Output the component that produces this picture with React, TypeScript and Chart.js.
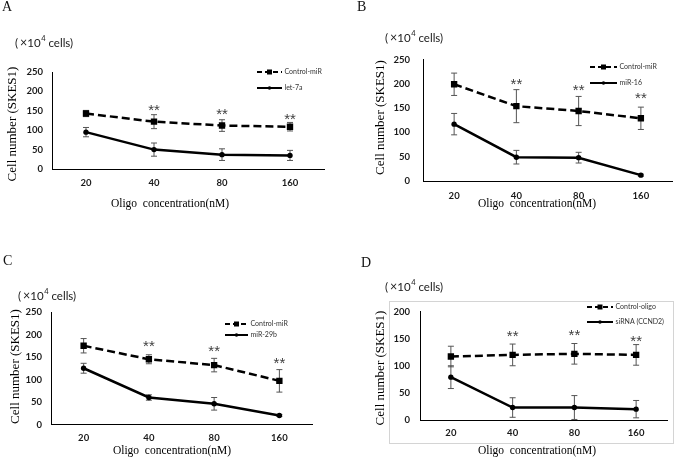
import React, { useEffect, useRef } from "react";
import { Chart, registerables } from "chart.js";

Chart.register(...registerables);

// ---------- data ----------
const concentrations = ["20", "40", "80", "160"];

// Panel A
const controlA = [143, 122, 112, 109];
const controlAErr = [8, 18, 15, 11];
const let7a = [95, 50, 37, 35];
const let7aErr = [12, 17, 15, 13];
const starsA = [null, 162, 152, 137];

// Panel B
const controlB = [199, 154, 144, 129];
const controlBErr = [23, 34, 30, 23];
const mir16 = [117, 49, 48, 12];
const mir16Err = [22, 14, 11, 2];
const starsB = [null, 206, 194, 179];

// Panel C
const controlC = [175, 145, 132, 97];
const controlCErr = [16, 10, 15, 25];
const mir29b = [125, 60, 46, 20];
const mir29bErr = [11, 6, 14, 2];
const starsC = [null, 183, 172, 144];

// Panel D
const controlD = [117, 120, 122, 120];
const controlDErr = [19, 20, 19, 19];
const sirna = [79, 23, 23, 20];
const sirnaErr = [21, 18, 22, 16];
const starsD = [null, 161, 164, 152];

const yMaxABC = 250;
const yMaxD = 200;
const yStep = 50;

const yTitle = "Cell number (SKES1)";
const xTitle = "Oligo  concentration(nM)";

// ---------- layout ----------
const PW = 340;
const PH = 229;

type Series = { label: string; values: number[]; errors: number[]; dashed: boolean };
type Panel = {
  letter: string;
  pageLeft: number;
  pageTop: number;
  area: { left: number; right: number; top: number; bottom: number };
  yMax: number;
  xTickPad: number;
  yTickPad: number;
  series: Series[];
  stars: (number | null)[];
  legend: { x1: number; x2: number; y: number[] };
  letterPos: [number, number];
  unitPos: [number, number];
  yTitlePos: [number, number];
  xTitlePos: [number, number];
  box?: [number, number, number, number];
};

const panels: Panel[] = [
  {
    letter: "A",
    pageLeft: 0,
    pageTop: 0,
    area: { left: 52, right: 324, top: 72, bottom: 169 },
    yMax: yMaxABC,
    xTickPad: 8,
    yTickPad: 9,
    series: [
      { label: "Control-miR", values: controlA, errors: controlAErr, dashed: true },
      { label: "let-7a", values: let7a, errors: let7aErr, dashed: false },
    ],
    stars: starsA,
    legend: { x1: 257, x2: 282, y: [72, 88] },
    letterPos: [2, 7],
    unitPos: [15, 43],
    yTitlePos: [12.5, 124],
    xTitlePos: [170, 204],
  },
  {
    letter: "B",
    pageLeft: 340,
    pageTop: 0,
    area: { left: 83, right: 332, top: 59.5, bottom: 181 },
    yMax: yMaxABC,
    xTickPad: 9,
    yTickPad: 13,
    series: [
      { label: "Control-miR", values: controlB, errors: controlBErr, dashed: true },
      { label: "miR-16", values: mir16, errors: mir16Err, dashed: false },
    ],
    stars: starsB,
    legend: { x1: 250, x2: 277, y: [67, 83] },
    letterPos: [17, 7],
    unitPos: [45, 38],
    yTitlePos: [40.5, 117.5],
    xTitlePos: [197, 204],
  },
  {
    letter: "C",
    pageLeft: 0,
    pageTop: 229,
    area: { left: 51, right: 312, top: 83, bottom: 195.5 },
    yMax: yMaxABC,
    xTickPad: 8,
    yTickPad: 9,
    series: [
      { label: "Control-miR", values: controlC, errors: controlCErr, dashed: true },
      { label: "miR-29b", values: mir29b, errors: mir29bErr, dashed: false },
    ],
    stars: starsC,
    legend: { x1: 225, x2: 248, y: [95, 106] },
    letterPos: [3, 32.5],
    unitPos: [18, 67],
    yTitlePos: [15.5, 137.5],
    xTitlePos: [172, 222],
  },
  {
    letter: "D",
    pageLeft: 340,
    pageTop: 229,
    area: { left: 80, right: 327, top: 82.5, bottom: 191 },
    yMax: yMaxD,
    xTickPad: 7.5,
    yTickPad: 10,
    series: [
      { label: "Control-oligo", values: controlD, errors: controlDErr, dashed: true },
      { label: "siRNA (CCND2)", values: sirna, errors: sirnaErr, dashed: false },
    ],
    stars: starsD,
    legend: { x1: 247, x2: 273, y: [78, 93] },
    letterPos: [21, 34.5],
    unitPos: [45, 58],
    yTitlePos: [41, 139],
    xTitlePos: [197, 222],
    box: [49.5, 72.5, 333.5, 214.5],
  },
];

const DASH = [8, 4];
const SANS = "Lato, 'Liberation Sans', sans-serif";
const SERIF = "'Liberation Serif', 'DejaVu Serif', serif";

function drawUnit(ctx: CanvasRenderingContext2D, x: number, y: number) {
  ctx.fillStyle = "#1a1a1a";
  ctx.textBaseline = "middle";
  ctx.textAlign = "left";
  let cx = x;
  ctx.font = `11.5px ${SANS}`;
  ctx.fillText("(", cx, y);
  cx += ctx.measureText("(").width + 2;
  ctx.font = `12.5px ${SANS}`;
  ctx.fillText("×", cx, y);
  cx += ctx.measureText("×").width;
  ctx.font = `11.5px ${SANS}`;
  ctx.fillText("10", cx, y);
  cx += ctx.measureText("10").width;
  ctx.font = `7.5px ${SANS}`;
  ctx.fillText("4", cx + 0.5, y - 4);
  cx += ctx.measureText("4").width + 0.5;
  ctx.font = `11.5px ${SANS}`;
  ctx.fillText(" cells)", cx, y);
}

function makeDecor(p: Panel) {
  return {
    id: "decor" + p.letter,
    beforeDatasetsDraw(chart: any) {
      const ctx: CanvasRenderingContext2D = chart.ctx;
      const xs = chart.scales.x;
      const ys = chart.scales.y;
      ctx.save();
      ctx.strokeStyle = "#555";
      ctx.lineWidth = 1;
      ctx.setLineDash([]);
      p.series.forEach((s) => {
        s.values.forEach((v, i) => {
          const x = xs.getPixelForValue(i);
          const yt = ys.getPixelForValue(v + s.errors[i]);
          const yb = ys.getPixelForValue(v - s.errors[i]);
          ctx.beginPath();
          ctx.moveTo(x, yt);
          ctx.lineTo(x, yb);
          ctx.moveTo(x - 3, yt);
          ctx.lineTo(x + 3, yt);
          ctx.moveTo(x - 3, yb);
          ctx.lineTo(x + 3, yb);
          ctx.stroke();
        });
      });
      ctx.restore();
    },
    afterDatasetsDraw(chart: any) {
      const ctx: CanvasRenderingContext2D = chart.ctx;
      const xs = chart.scales.x;
      const ys = chart.scales.y;
      ctx.save();
      ctx.fillStyle = "#404040";
      ctx.font = `15px 'Liberation Sans', sans-serif`;
      ctx.textAlign = "center";
      ctx.textBaseline = "alphabetic";
      p.stars.forEach((v, i) => {
        if (v == null) return;
        ctx.fillText("**", xs.getPixelForValue(i), ys.getPixelForValue(v) + 8.5);
      });
      ctx.restore();
    },
    afterDraw(chart: any) {
      const ctx: CanvasRenderingContext2D = chart.ctx;
      ctx.save();
      // frame (panel D)
      if (p.box) {
        const [x1, y1, x2, y2] = p.box;
        ctx.strokeStyle = "#d4d4d4";
        ctx.lineWidth = 1;
        ctx.strokeRect(x1, y1, x2 - x1, y2 - y1);
      }
      // panel letter
      ctx.fillStyle = "#111";
      ctx.font = `14px ${SERIF}`;
      ctx.textAlign = "left";
      ctx.textBaseline = "middle";
      ctx.fillText(p.letter, p.letterPos[0], p.letterPos[1]);
      // unit
      drawUnit(ctx, p.unitPos[0], p.unitPos[1]);
      // y title
      ctx.save();
      ctx.translate(p.yTitlePos[0], p.yTitlePos[1]);
      ctx.rotate(-Math.PI / 2);
      ctx.fillStyle = "#000";
      ctx.font = `13px ${SERIF}`;
      ctx.textAlign = "center";
      ctx.textBaseline = "middle";
      ctx.fillText(yTitle, 0, 0);
      ctx.restore();
      // x title
      ctx.fillStyle = "#000";
      ctx.font = `11.5px ${SERIF}`;
      ctx.textAlign = "center";
      ctx.textBaseline = "middle";
      ctx.fillText(xTitle, p.xTitlePos[0], p.xTitlePos[1]);
      // legend
      p.series.forEach((s, k) => {
        const y = p.legend.y[k];
        const { x1, x2 } = p.legend;
        ctx.strokeStyle = "#000";
        ctx.fillStyle = "#000";
        ctx.lineWidth = 2;
        ctx.setLineDash(s.dashed ? [5, 3] : []);
        ctx.beginPath();
        ctx.moveTo(x1, y);
        ctx.lineTo(x2, y);
        ctx.stroke();
        ctx.setLineDash([]);
        const cx = (x1 + x2) / 2;
        if (s.dashed) {
          ctx.fillRect(cx - 2.5, y - 2.5, 5, 5);
        } else {
          ctx.beginPath();
          ctx.arc(cx, y, 1.8, 0, Math.PI * 2);
          ctx.fill();
        }
        ctx.fillStyle = "#333";
        ctx.font = `7px ${SANS}`;
        ctx.textAlign = "left";
        ctx.textBaseline = "middle";
        ctx.fillText(s.label, x2 + 2.5, y);
      });
      ctx.restore();
    },
  };
}

function PanelChart({ p }: { p: Panel }) {
  const ref = useRef<HTMLCanvasElement>(null);
  useEffect(() => {
    const canvas = ref.current;
    if (!canvas) return;
    const tickFont = { family: SANS, size: 9.5, weight: "bold" as const };
    const chart = new Chart(canvas, {
      type: "line",
      data: {
        labels: concentrations,
        datasets: p.series.map((s) => ({
          label: s.label,
          data: s.values,
          borderColor: "#000",
          backgroundColor: "#000",
          borderWidth: 2.5,
          borderDash: s.dashed ? DASH : [],
          pointStyle: s.dashed ? "rect" : "circle",
          pointRadius: s.dashed ? 4.5 : 2.7,
          pointBackgroundColor: "#000",
          pointBorderColor: "#000",
          pointBorderWidth: 0,
          tension: 0,
          fill: false,
        })),
      },
      options: {
        responsive: false,
        animation: false,
        events: [],
        layout: {
          padding: { left: 0, top: p.area.top, right: PW - p.area.right, bottom: 0 },
        },
        plugins: {
          legend: { display: false },
          tooltip: { enabled: false },
          title: { display: false },
        },
        scales: {
          x: {
            type: "category",
            offset: true,
            grid: { display: false, drawTicks: false },
            border: { display: true, color: "#000", width: 1 },
            ticks: {
              padding: p.xTickPad,
              font: tickFont,
              color: "#1a1a1a",
              maxRotation: 0,
              autoSkip: false,
            },
            afterFit: (s: any) => {
              s.height = PH - p.area.bottom;
            },
          },
          y: {
            type: "linear",
            min: 0,
            max: p.yMax,
            grid: { display: false, drawTicks: false },
            border: { display: true, color: "#000", width: 1 },
            ticks: {
              stepSize: yStep,
              padding: p.yTickPad,
              font: tickFont,
              color: "#1a1a1a",
            },
            afterFit: (s: any) => {
              s.width = p.area.left;
            },
          },
        },
      },
      plugins: [makeDecor(p)],
    } as any);
    return () => chart.destroy();
  }, [p]);
  return (
    <div style={{ position: "absolute", left: p.pageLeft, top: p.pageTop, width: PW, height: PH }}>
      <canvas ref={ref} width={PW} height={PH} style={{ width: PW, height: PH, display: "block" }} />
    </div>
  );
}

export default function App() {
  return (
    <div style={{ position: "absolute", left: 0, top: 0, width: 680, height: 458, background: "#fff", overflow: "hidden" }}>
      {panels.map((p) => (
        <PanelChart key={p.letter} p={p} />
      ))}
    </div>
  );
}
